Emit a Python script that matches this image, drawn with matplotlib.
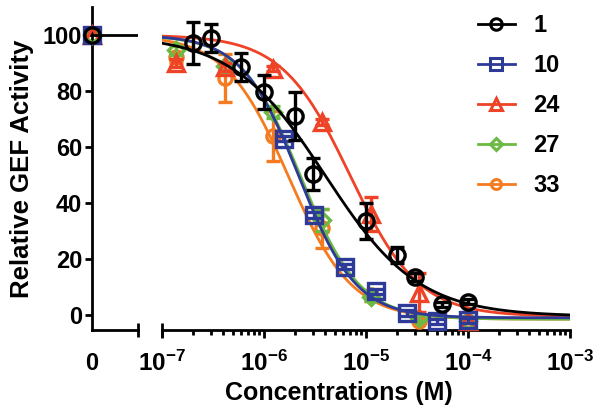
import numpy as np
import matplotlib
matplotlib.use("Agg")
import matplotlib.pyplot as plt
from matplotlib.lines import Line2D

plt.rcParams['font.family'] = ['Liberation Sans', 'DejaVu Sans']
plt.rcParams['font.weight'] = 'bold'
plt.rcParams['mathtext.fontset'] = 'custom'
plt.rcParams['mathtext.rm'] = 'Liberation Sans:bold'
plt.rcParams['mathtext.bf'] = 'Liberation Sans:bold'

# ---------------- data ----------------
labels = ["1", "10", "24", "27", "33"]
colors = ["#000000", "#2e3a97", "#ee4326", "#6cb943", "#f47b20"]
markers = ["o", "s", "^", "D", "o"]
msizes = [11, 11, 11, 8.5, 9.5]

zero_value = [100, 100, 100, 100, 100]   # value at concentration 0

x1 = [2e-7, 3e-7, 6e-7, 1e-6, 2e-6, 3e-6, 1e-5, 2e-5, 3e-5, 5.6e-5, 1e-4]
y1 = [97, 99, 88.6, 79.6, 71, 50.5, 33.5, 21.4, 13.6, 3.8, 4.8]
e1 = [7.5, 5, 5, 6, 8.5, 5.7, 6.5, 3, 1.5, 1, 1]

x10 = [1.5625e-6, 3.125e-6, 6.25e-6, 1.25e-5, 2.5e-5, 5e-5, 1e-4]
y10 = [63, 35.7, 17.3, 8.4, 0.7, -2.3, -1.9]
e10 = [1, 1, 1, 1, 1, 1, 1]

x24 = [1.37e-7, 4.12e-7, 1.23e-6, 3.7e-6, 1.11e-5, 3.33e-5, 1e-4]
y24 = [90, 88.6, 88, 69, 36, 8, -2]
e24 = [1.5, 1.5, 1, 1, 6, 7, 1]

x27 = [1.37e-7, 4.12e-7, 1.23e-6, 3.7e-6, 1.11e-5, 3.33e-5, 1e-4]
y27 = [94.5, 89, 72.5, 34, 6.5, -1, -2]
e27 = [1.5, 1.5, 2, 4, 1.5, 1, 1]

x33 = [1.37e-7, 4.12e-7, 1.23e-6, 3.7e-6, 1.11e-5, 3.33e-5, 1e-4]
y33 = [92, 84.6, 64, 31, 7, -2, -2]
e33 = [2, 8.5, 9, 7, 2, 1, 1]

# four-parameter logistic fit parameters (top, bottom, IC50, Hill slope)
fit_top = [100, 100, 100, 100, 100]
fit_bottom = [-0.5, -1, -0.5, -1.5, -1.5]
fit_ic50 = [4e-6, 2.2e-6, 7e-6, 2.3e-6, 1.75e-6]
fit_hill = [0.95, 1.55, 1.3, 1.5, 1.4]

xs = [x1, x10, x24, x27, x33]
ys = [y1, y10, y24, y27, y33]
es = [e1, e10, e24, e27, e33]

# ---------------- figure ----------------
W, H = 601, 415
fig = plt.figure(figsize=(W / 100, H / 100), dpi=100)

def fx(px):
    return px / W

def fy(py):
    return 1 - py / H

bottom_px, top_px = 330, 7
axL = fig.add_axes([fx(92), fy(bottom_px), fx(138) - fx(92), fy(top_px) - fy(bottom_px)])
axR = fig.add_axes([fx(162), fy(bottom_px), fx(570) - fx(162), fy(top_px) - fy(bottom_px)], sharey=axL)

ylim = (-5.36, 110)
axL.set_ylim(*ylim)
axL.set_xlim(0, 1)
axR.set_xscale('log')
axR.set_xlim(1e-7, 1e-3)

lw_axis = 2.0
for ax in (axL, axR):
    for s in ('top', 'right'):
        ax.spines[s].set_visible(False)
    ax.spines['bottom'].set_linewidth(lw_axis)
    ax.spines['left'].set_linewidth(lw_axis)
axR.spines['left'].set_visible(False)
axR.tick_params(axis='y', left=False, labelleft=False)

axL.set_yticks([0, 20, 40, 60, 80, 100])
axL.set_yticklabels(["0", "20", "40", "60", "80", "100"])
axL.tick_params(axis='y', length=5, width=lw_axis, labelsize=17, pad=2)
axL.set_xticks([0])
axL.set_xticklabels(["0"])
axL.tick_params(axis='x', length=0, labelsize=17, pad=15.5)

decades = [1e-7, 1e-6, 1e-5, 1e-4, 1e-3]
dec_labels = [r'$\mathbf{10^{-7}}$', r'$\mathbf{10^{-6}}$', r'$\mathbf{10^{-5}}$',
              r'$\mathbf{10^{-4}}$', r'$\mathbf{10^{-3}}$']
axR.set_xticks(decades)
axR.set_xticklabels(dec_labels)
axR.xaxis.set_minor_locator(matplotlib.ticker.LogLocator(base=10, subs=np.arange(2, 10)))
axR.xaxis.set_minor_formatter(matplotlib.ticker.NullFormatter())
axR.tick_params(axis='x', which='major', length=5.5, width=lw_axis, labelsize=17.5, pad=9.5)
axR.tick_params(axis='x', which='minor', length=3.5, width=lw_axis)

# break markers
bh = 7 / (bottom_px - top_px)
axL.plot([1, 1], [-bh, bh], transform=axL.transAxes, color='black', lw=lw_axis,
         clip_on=False, solid_capstyle='butt')
axR.plot([0, 0], [-bh, bh], transform=axR.transAxes, color='black', lw=lw_axis,
         clip_on=False, solid_capstyle='butt')

xfit = np.logspace(-7, -3, 400)
zorders = [6, 5, 4, 3, 2]
handles = []
for i in range(5):
    c = colors[i]
    z = zorders[i]
    yfit = fit_bottom[i] + (fit_top[i] - fit_bottom[i]) / (1 + (xfit / fit_ic50[i]) ** fit_hill[i])
    axR.plot(xfit, yfit, color=c, lw=2.0, zorder=z)
    axR.errorbar(xs[i], ys[i], yerr=es[i], fmt=markers[i], color=c, ms=msizes[i],
                 mfc='none', mec=c, mew=2.4, elinewidth=2.4, capsize=5, capthick=2.4,
                 zorder=z + 0.5, clip_on=False)
    axL.plot([0], [zero_value[i]], marker=markers[i], ms=msizes[i], mfc='none', mec=c,
             mew=2.4, ls='none', clip_on=False, zorder=z + 0.5)
    handles.append(Line2D([0], [0], color=c, lw=2.0, marker=markers[i], ms=msizes[i] * 0.75,
                          mfc='none', mec=c, mew=2.2))

axL.plot([0, 1], [fit_top[0], fit_top[0]], color='black', lw=2.0, zorder=6)

fig.legend(handles, labels, loc='upper left', bbox_to_anchor=(fx(478), fy(14)),
           frameon=False, fontsize=17, handlelength=1.55, handletextpad=0.8,
           labelspacing=0.72, borderpad=0, borderaxespad=0)

fig.text(fx(22), fy(169), "Relative GEF Activity", rotation=90, ha='center', va='center',
         fontsize=18.5, fontweight='bold')
fig.text(fx(339), fy(393), "Concentrations (M)", ha='center', va='center',
         fontsize=18, fontweight='bold')

fig.savefig("out.png", dpi=100)
